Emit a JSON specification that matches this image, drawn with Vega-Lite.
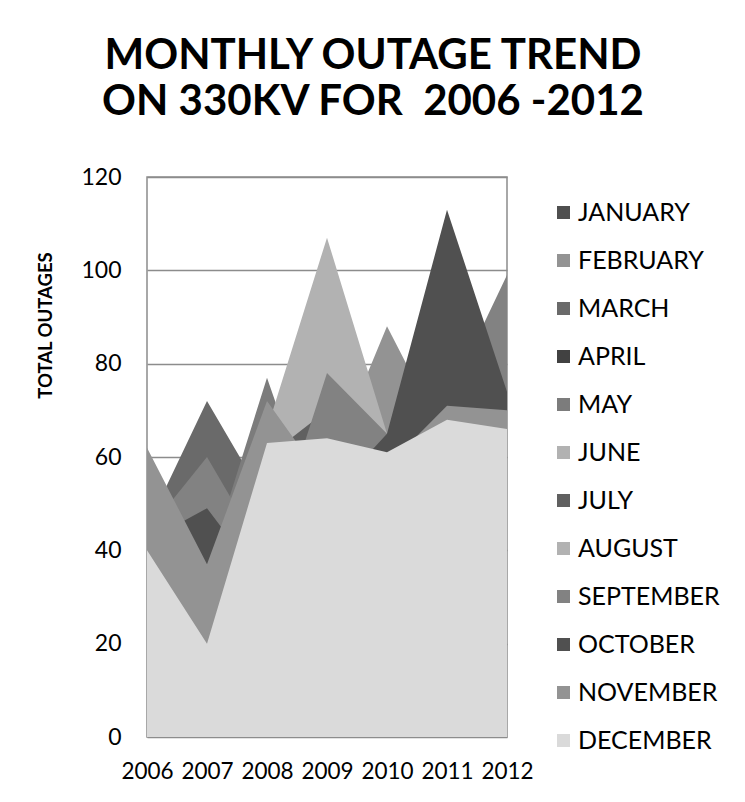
{
  "$schema": "https://vega.github.io/schema/vega-lite/v6.json",
  "width": 360,
  "height": 560,
  "autosize": "none",
  "padding": {"left": 147, "top": 177, "right": 238, "bottom": 65},
  "background": "white",
  "title": {
    "text": ["MONTHLY OUTAGE TREND", "ON 330KV FOR \u00a02006 -2012"],
    "font": "Lato",
    "fontSize": 42,
    "fontWeight": "bold",
    "color": "black",
    "lineHeight": 46,
    "anchor": "middle",
    "frame": "group",
    "dx": 46,
    "offset": 42
  },
  "config": {
    "view": {"stroke": "#8c8c8c", "strokeWidth": 1.5},
    "font": "Lato"
  },
  "data": {
    "values": [
      {"year": "2006", "month": "JANUARY", "outages": 40},
      {"year": "2007", "month": "JANUARY", "outages": 30},
      {"year": "2008", "month": "JANUARY", "outages": 48},
      {"year": "2009", "month": "JANUARY", "outages": 52},
      {"year": "2010", "month": "JANUARY", "outages": 50},
      {"year": "2011", "month": "JANUARY", "outages": 55},
      {"year": "2012", "month": "JANUARY", "outages": 52},
      {"year": "2006", "month": "FEBRUARY", "outages": 50},
      {"year": "2007", "month": "FEBRUARY", "outages": 45},
      {"year": "2008", "month": "FEBRUARY", "outages": 55},
      {"year": "2009", "month": "FEBRUARY", "outages": 57},
      {"year": "2010", "month": "FEBRUARY", "outages": 88},
      {"year": "2011", "month": "FEBRUARY", "outages": 63},
      {"year": "2012", "month": "FEBRUARY", "outages": 60},
      {"year": "2006", "month": "MARCH", "outages": 45},
      {"year": "2007", "month": "MARCH", "outages": 72},
      {"year": "2008", "month": "MARCH", "outages": 50},
      {"year": "2009", "month": "MARCH", "outages": 55},
      {"year": "2010", "month": "MARCH", "outages": 50},
      {"year": "2011", "month": "MARCH", "outages": 55},
      {"year": "2012", "month": "MARCH", "outages": 50},
      {"year": "2006", "month": "APRIL", "outages": 35},
      {"year": "2007", "month": "APRIL", "outages": 18},
      {"year": "2008", "month": "APRIL", "outages": 50},
      {"year": "2009", "month": "APRIL", "outages": 55},
      {"year": "2010", "month": "APRIL", "outages": 52},
      {"year": "2011", "month": "APRIL", "outages": 58},
      {"year": "2012", "month": "APRIL", "outages": 55},
      {"year": "2006", "month": "MAY", "outages": 30},
      {"year": "2007", "month": "MAY", "outages": 36},
      {"year": "2008", "month": "MAY", "outages": 77},
      {"year": "2009", "month": "MAY", "outages": 40},
      {"year": "2010", "month": "MAY", "outages": 50},
      {"year": "2011", "month": "MAY", "outages": 55},
      {"year": "2012", "month": "MAY", "outages": 58},
      {"year": "2006", "month": "JUNE", "outages": 38},
      {"year": "2007", "month": "JUNE", "outages": 35},
      {"year": "2008", "month": "JUNE", "outages": 66},
      {"year": "2009", "month": "JUNE", "outages": 107},
      {"year": "2010", "month": "JUNE", "outages": 65},
      {"year": "2011", "month": "JUNE", "outages": 60},
      {"year": "2012", "month": "JUNE", "outages": 58},
      {"year": "2006", "month": "JULY", "outages": 45},
      {"year": "2007", "month": "JULY", "outages": 40},
      {"year": "2008", "month": "JULY", "outages": 60},
      {"year": "2009", "month": "JULY", "outages": 70},
      {"year": "2010", "month": "JULY", "outages": 58},
      {"year": "2011", "month": "JULY", "outages": 60},
      {"year": "2012", "month": "JULY", "outages": 62},
      {"year": "2006", "month": "AUGUST", "outages": 38},
      {"year": "2007", "month": "AUGUST", "outages": 30},
      {"year": "2008", "month": "AUGUST", "outages": 50},
      {"year": "2009", "month": "AUGUST", "outages": 58},
      {"year": "2010", "month": "AUGUST", "outages": 55},
      {"year": "2011", "month": "AUGUST", "outages": 60},
      {"year": "2012", "month": "AUGUST", "outages": 62},
      {"year": "2006", "month": "SEPTEMBER", "outages": 44},
      {"year": "2007", "month": "SEPTEMBER", "outages": 60},
      {"year": "2008", "month": "SEPTEMBER", "outages": 38},
      {"year": "2009", "month": "SEPTEMBER", "outages": 78},
      {"year": "2010", "month": "SEPTEMBER", "outages": 65},
      {"year": "2011", "month": "SEPTEMBER", "outages": 72},
      {"year": "2012", "month": "SEPTEMBER", "outages": 99},
      {"year": "2006", "month": "OCTOBER", "outages": 42},
      {"year": "2007", "month": "OCTOBER", "outages": 49},
      {"year": "2008", "month": "OCTOBER", "outages": 32},
      {"year": "2009", "month": "OCTOBER", "outages": 51},
      {"year": "2010", "month": "OCTOBER", "outages": 65},
      {"year": "2011", "month": "OCTOBER", "outages": 113},
      {"year": "2012", "month": "OCTOBER", "outages": 74},
      {"year": "2006", "month": "NOVEMBER", "outages": 62},
      {"year": "2007", "month": "NOVEMBER", "outages": 37},
      {"year": "2008", "month": "NOVEMBER", "outages": 72},
      {"year": "2009", "month": "NOVEMBER", "outages": 54},
      {"year": "2010", "month": "NOVEMBER", "outages": 58},
      {"year": "2011", "month": "NOVEMBER", "outages": 71},
      {"year": "2012", "month": "NOVEMBER", "outages": 70},
      {"year": "2006", "month": "DECEMBER", "outages": 40},
      {"year": "2007", "month": "DECEMBER", "outages": 20},
      {"year": "2008", "month": "DECEMBER", "outages": 63},
      {"year": "2009", "month": "DECEMBER", "outages": 64},
      {"year": "2010", "month": "DECEMBER", "outages": 61},
      {"year": "2011", "month": "DECEMBER", "outages": 68},
      {"year": "2012", "month": "DECEMBER", "outages": 66}
    ]
  },
  "mark": {"type": "area", "opacity": 1, "interpolate": "linear"},
  "encoding": {
    "x": {
      "field": "year",
      "type": "ordinal",
      "scale": {"type": "point", "padding": 0},
      "axis": {
        "title": null,
        "labelAngle": 0,
        "labelFont": "Lato",
        "labelFontSize": 22.5,
        "labelColor": "black",
        "labelPadding": 23,
        "ticks": false,
        "domain": false,
        "grid": false
      }
    },
    "y": {
      "field": "outages",
      "type": "quantitative",
      "stack": null,
      "scale": {"domain": [0, 120], "nice": false},
      "axis": {
        "title": "TOTAL OUTAGES",
        "titleFont": "Lato",
        "titleFontSize": 18.5,
        "titleFontWeight": "bold",
        "titleColor": "black",
        "titleX": -102,
        "titleY": 148,
        "titleAlign": "center",
        "titleBaseline": "middle",
        "titleAngle": -90,
        "values": [0, 20, 40, 60, 80, 100, 120],
        "labelFont": "Lato",
        "labelFontSize": 23,
        "labelColor": "black",
        "labelPadding": 26,
        "ticks": false,
        "domain": false,
        "grid": true,
        "gridColor": "#8c8c8c",
        "gridWidth": 1.5
      }
    },
    "color": {
      "field": "month",
      "type": "nominal",
      "sort": ["JANUARY", "FEBRUARY", "MARCH", "APRIL", "MAY", "JUNE", "JULY", "AUGUST", "SEPTEMBER", "OCTOBER", "NOVEMBER", "DECEMBER"],
      "scale": {
        "domain": ["JANUARY", "FEBRUARY", "MARCH", "APRIL", "MAY", "JUNE", "JULY", "AUGUST", "SEPTEMBER", "OCTOBER", "NOVEMBER", "DECEMBER"],
        "range": ["#4f4f4f", "#939393", "#6a6a6a", "#414141", "#7c7c7c", "#b2b2b2", "#606060", "#b2b2b2", "#828282", "#505050", "#939393", "#dadada"]
      },
      "legend": {
        "title": null,
        "orient": "none",
        "legendX": 404,
        "legendY": 23,
        "symbolType": "square",
        "symbolSize": 170,
        "symbolStrokeWidth": 0,
        "symbolOpacity": 1,
        "labelFont": "Lato",
        "labelFontSize": 25,
        "labelColor": "black",
        "labelOffset": 2,
        "rowPadding": 22
      }
    }
  }
}
